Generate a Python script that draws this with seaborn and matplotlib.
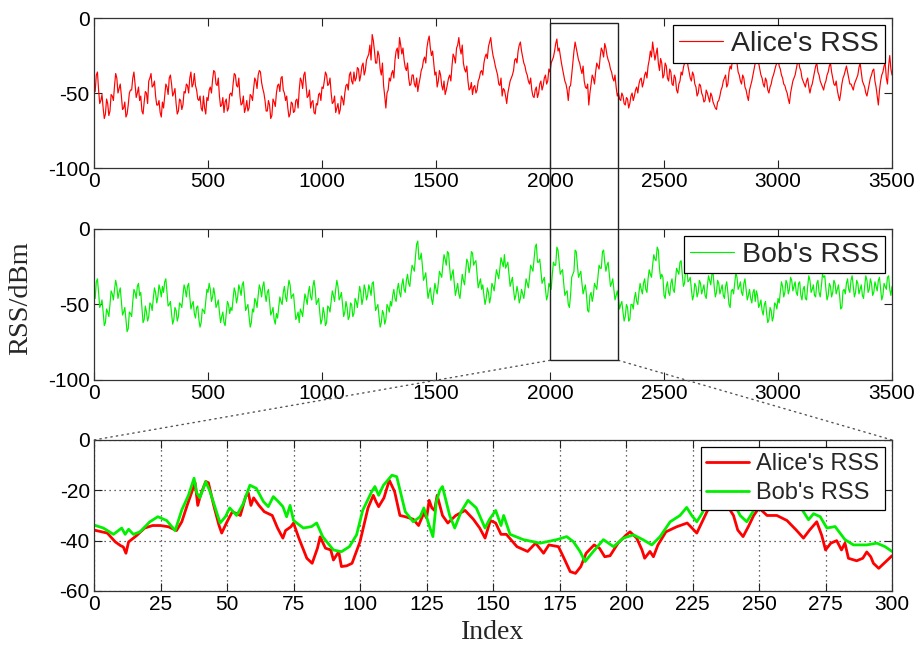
import numpy as np
import matplotlib
matplotlib.use("Agg")
import matplotlib.pyplot as plt
import seaborn as sns
from matplotlib.patches import Rectangle, ConnectionPatch

# full traces: samples at index 0, 10, ..., 3500
alice_rss = [
    -46, -38, -48, -55, -60, -64, -57, -62, -52, -45,
    -40, -47, -52, -60, -66, -58, -48, -40, -44, -50,
    -55, -62, -56, -50, -42, -37, -45, -52, -58, -63,
    -56, -52, -46, -40, -44, -50, -57, -62, -55, -58,
    -50, -45, -40, -46, -37, -48, -55, -60, -52, -64,
    -55, -46, -41, -36, -45, -52, -58, -63, -54, -60,
    -50, -44, -38, -46, -52, -57, -63, -55, -60, -52,
    -47, -42, -38, -36, -47, -55, -62, -58, -65, -56,
    -50, -44, -40, -48, -55, -60, -64, -57, -62, -54,
    -48, -42, -38, -45, -52, -60, -55, -64, -58, -50,
    -46, -42, -38, -44, -50, -56, -63, -57, -61, -54,
    -50, -44, -38, -42, -36, -40, -34, -38, -30, -35,
    -26, -18, -11, -22, -30, -25, -38, -45, -60, -48,
    -42, -35, -28, -20, -13, -24, -28, -35, -40, -44,
    -38, -46, -49, -40, -33, -26, -20, -12, -25, -30,
    -36, -42, -38, -48, -51, -44, -38, -32, -26, -20,
    -13, -24, -30, -36, -42, -47, -51, -45, -48, -40,
    -35, -30, -24, -19, -13, -25, -32, -38, -45, -52,
    -48, -57, -46, -40, -35, -27, -22, -16, -26, -32,
    -38, -44, -48, -53, -46, -50, -42, -45, -38, -42,
    -36, -28, -22, -14, -20, -30, -38, -44, -55, -45,
    -30, -16, -24, -30, -37, -42, -47, -58, -44, -40,
    -36, -32, -26, -22, -17, -25, -30, -36, -42, -46,
    -50, -55, -52, -58, -54, -57, -50, -52, -46, -44,
    -40, -43, -36, -32, -22, -16, -28, -20, -35, -30,
    -38, -32, -42, -36, -45, -40, -50, -42, -38, -30,
    -26, -36, -42, -38, -46, -50, -45, -52, -55, -50,
    -56, -52, -58, -61, -55, -48, -42, -38, -44, -32,
    -28, -22, -30, -38, -44, -40, -48, -55, -45, -38,
    -30, -25, -34, -40, -46, -42, -50, -44, -38, -32,
    -26, -34, -40, -45, -50, -57, -46, -40, -34, -28,
    -35, -42, -46, -40, -50, -44, -36, -30, -38, -44,
    -48, -42, -36, -30, -40, -45, -48, -55, -44, -38,
    -32, -40, -44, -48, -42, -38, -30, -42, -46, -52,
    -44, -38, -34, -46, -58, -42, -36, -30, -44, -25,
    -38,
]
# samples in between: index 5, 15, ..., 3495
alice_rss_mid = [
    -49, -36, -57, -51, -67, -54, -65, -51, -55, -37,
    -50, -44, -61, -56, -64, -50, -48, -36, -53, -46,
    -52, -64, -49, -57, -40, -46, -42, -58, -55, -66,
    -60, -44, -51, -38, -52, -47, -64, -54, -61, -49,
    -44, -50, -36, -44, -45, -54, -52, -62, -60, -53,
    -48, -50, -35, -44, -40, -59, -53, -56, -62, -51,
    -52, -37, -45, -40, -58, -52, -60, -62, -51, -55,
    -40, -47, -35, -43, -50, -62, -55, -67, -54, -59,
    -45, -49, -39, -50, -52, -66, -56, -63, -55, -60,
    -40, -47, -36, -53, -48, -56, -63, -57, -51, -55,
    -47, -36, -45, -40, -57, -52, -60, -64, -52, -58,
    -45, -48, -36, -44, -42, -33, -42, -32, -38, -28,
    -24, -28, -15, -30, -22, -34, -30, -52, -50, -40,
    -37, -40, -22, -27, -18, -20, -33, -30, -45, -38,
    -44, -40, -44, -35, -28, -30, -15, -20, -22, -38,
    -46, -35, -45, -42, -48, -40, -42, -24, -30, -18,
    -20, -18, -34, -32, -48, -43, -46, -50, -42, -36,
    -38, -26, -27, -16, -20, -28, -35, -44, -40, -47,
    -52, -50, -42, -38, -28, -30, -18, -22, -30, -36,
    -42, -40, -52, -48, -53, -44, -48, -40, -44, -34,
    -30, -26, -17, -22, -25, -34, -42, -48, -46, -38,
    -22, -20, -28, -34, -32, -46, -44, -50, -38, -44,
    -30, -34, -20, -26, -20, -28, -34, -40, -38, -52,
    -54, -50, -57, -53, -60, -52, -55, -48, -50, -41,
    -46, -38, -40, -28, -26, -22, -24, -30, -27, -40,
    -30, -40, -34, -44, -38, -48, -44, -36, -33, -29,
    -32, -40, -36, -44, -52, -44, -50, -56, -48, -53,
    -50, -56, -60, -56, -52, -46, -40, -46, -36, -34,
    -24, -28, -36, -42, -38, -46, -52, -48, -42, -34,
    -28, -30, -38, -44, -40, -48, -46, -40, -35, -30,
    -32, -38, -44, -48, -54, -50, -42, -38, -30, -33,
    -40, -44, -42, -46, -46, -40, -32, -36, -42, -46,
    -44, -38, -32, -36, -44, -42, -52, -50, -40, -35,
    -36, -44, -46, -44, -40, -33, -36, -44, -50, -48,
    -40, -35, -42, -52, -48, -38, -32, -40, -32, -34,
]

bob_rss = [
    -44, -35, -42, -50, -55, -62, -55, -50, -43, -40,
    -38, -42, -48, -55, -60, -66, -56, -48, -42, -38,
    -44, -52, -60, -55, -58, -50, -46, -42, -45, -40,
    -38, -35, -42, -50, -56, -60, -54, -58, -50, -44,
    -40, -38, -45, -50, -56, -52, -60, -62, -54, -48,
    -42, -40, -45, -44, -50, -55, -58, -62, -56, -50,
    -52, -46, -42, -45, -40, -37, -44, -52, -58, -62,
    -55, -48, -44, -40, -38, -43, -42, -48, -55, -60,
    -56, -52, -48, -42, -45, -40, -37, -44, -52, -58,
    -62, -55, -50, -46, -42, -45, -38, -40, -48, -55,
    -60, -56, -62, -52, -48, -44, -40, -38, -45, -50,
    -55, -52, -58, -50, -56, -48, -45, -42, -46, -40,
    -44, -40, -36, -45, -52, -58, -62, -56, -60, -52,
    -48, -44, -46, -40, -42, -37, -40, -34, -36, -30,
    -26, -18, -8, -20, -24, -32, -38, -42, -46, -43,
    -40, -36, -30, -24, -20, -15, -26, -30, -36, -40,
    -43, -38, -34, -28, -22, -25, -16, -22, -30, -36,
    -40, -44, -46, -42, -45, -38, -34, -30, -26, -22,
    -17, -24, -30, -35, -40, -44, -42, -46, -43, -40,
    -36, -32, -26, -20, -10, -22, -28, -34, -40, -44,
    -38, -30, -24, -12, -22, -28, -36, -42, -50, -44,
    -30, -14, -24, -30, -36, -40, -44, -55, -42, -44,
    -38, -32, -26, -15, -22, -24, -30, -36, -40, -44,
    -46, -50, -55, -58, -52, -60, -50, -46, -48, -42,
    -40, -36, -40, -33, -30, -24, -20, -12, -26, -30,
    -44, -38, -42, -36, -40, -34, -28, -22, -30, -36,
    -26, -34, -40, -44, -38, -42, -36, -40, -44, -38,
    -34, -30, -38, -42, -36, -40, -44, -38, -42, -52,
    -40, -36, -32, -38, -42, -36, -40, -44, -46, -42,
    -48, -44, -50, -54, -50, -56, -60, -54, -58, -50,
    -46, -42, -38, -42, -36, -40, -34, -38, -42, -36,
    -44, -40, -46, -38, -34, -40, -44, -36, -42, -38,
    -32, -40, -44, -38, -42, -36, -40, -44, -52, -40,
    -36, -40, -34, -38, -42, -36, -40, -44, -38, -34,
    -40, -36, -42, -38, -34, -40, -44, -38, -32, -40,
    -38,
]
bob_rss_mid = [
    -46, -33, -52, -47, -64, -53, -58, -41, -47, -34,
    -46, -39, -57, -52, -68, -55, -58, -40, -46, -36,
    -42, -62, -51, -61, -49, -54, -39, -49, -37, -45,
    -42, -33, -51, -48, -63, -52, -61, -49, -52, -37,
    -45, -36, -53, -48, -59, -51, -65, -53, -56, -40,
    -36, -48, -39, -52, -47, -62, -55, -64, -48, -56,
    -54, -39, -49, -37, -44, -35, -54, -50, -65, -53,
    -46, -52, -37, -45, -35, -48, -40, -57, -52, -63,
    -59, -45, -50, -38, -48, -34, -46, -43, -60, -55,
    -53, -58, -43, -50, -38, -47, -34, -50, -46, -63,
    -52, -64, -51, -55, -41, -48, -34, -47, -42, -58,
    -48, -60, -49, -58, -46, -52, -38, -50, -37, -47,
    -37, -44, -35, -54, -50, -65, -54, -63, -50, -55,
    -51, -40, -48, -36, -45, -33, -42, -30, -38, -24,
    -28, -10, -20, -16, -34, -29, -46, -39, -50, -36,
    -43, -28, -32, -17, -24, -16, -34, -27, -44, -36,
    -46, -30, -37, -20, -29, -15, -24, -21, -39, -33,
    -37, -50, -39, -49, -36, -41, -27, -33, -19, -25,
    -26, -22, -38, -32, -47, -38, -49, -40, -46, -33,
    -39, -24, -28, -12, -22, -20, -36, -32, -47, -36,
    -40, -22, -24, -14, -30, -27, -44, -41, -52, -32,
    -28, -15, -32, -28, -43, -37, -54, -44, -48, -36,
    -40, -24, -26, -14, -28, -22, -38, -33, -47, -41,
    -53, -48, -61, -50, -61, -50, -53, -42, -50, -36,
    -43, -33, -42, -27, -32, -17, -21, -14, -33, -32,
    -46, -35, -44, -33, -42, -26, -30, -21, -38, -26,
    -35, -32, -47, -36, -45, -34, -43, -37, -46, -31,
    -37, -29, -45, -34, -43, -37, -46, -35, -50, -41,
    -43, -29, -40, -35, -44, -33, -47, -40, -49, -40,
    -41, -52, -47, -57, -48, -62, -52, -61, -49, -53,
    -49, -35, -45, -34, -43, -32, -41, -35, -44, -35,
    -47, -38, -47, -31, -42, -37, -45, -34, -45, -30,
    -31, -47, -36, -45, -34, -43, -37, -53, -41, -43,
    -33, -42, -31, -45, -34, -43, -37, -46, -31, -42,
    -33, -44, -35, -41, -32, -47, -36, -40, -31, -44,
]

# zoomed window (indices 2000-2300 re-numbered 0-300)
zoom_alice_idx = [
    0, 3, 5, 8, 10, 11, 12, 13, 16, 19, 22, 25, 28, 31, 33, 35, 36, 38, 39, 40,
    42, 43, 45, 47, 48, 50, 52, 55, 57, 58, 59, 60, 62, 64, 67, 69, 71, 72, 74, 75,
    77, 80, 82, 84, 85, 87, 89, 90, 92, 93, 95, 97, 100, 103, 105, 106, 107, 109, 111, 113,
    115, 117, 120, 122, 124, 125, 126, 127, 128, 129, 131, 133, 136, 139.5, 142.6, 145, 147, 149, 151, 153,
    155, 159, 163, 166, 169, 171, 174.6, 177, 179, 181, 183, 185, 188, 190, 192, 194, 197, 200, 201.5, 204,
    206, 207, 209, 210.3, 212, 215, 219, 223, 226.6, 229, 232, 235, 238, 240.4, 242, 244, 246, 248, 250, 253,
    256.7, 260.5, 264, 266.7, 269, 271.7, 273.6, 275, 277, 279.2, 281, 282.3, 283.6, 286.7, 289, 290.5, 292, 293, 295, 297,
    300,
]
zoom_alice = [
    -35.8, -36.5, -37, -40.5, -42, -42.5, -45, -40.5, -38, -35, -34, -34, -34.5, -36, -32.5, -26, -23, -17, -26, -22,
    -16.5, -17, -26, -34, -37, -32.5, -28.5, -30, -22.5, -21, -26, -23, -26, -28.5, -30, -35, -39, -36, -34.5, -33,
    -39, -47, -49, -43, -38.5, -43, -43.7, -47.7, -44.4, -50.3, -50, -49, -40.4, -27, -22, -24.5, -26.5, -23, -16, -20.5,
    -30, -30.5, -31.5, -34, -29, -31, -24, -27, -28, -22, -30, -33, -30, -28, -31.5, -35, -39, -32, -33, -37.5,
    -37.5, -42.4, -44.3, -41, -45, -41.7, -42.4, -47.7, -52.3, -53, -50.3, -45, -41.7, -43, -46.4, -46, -41, -37.8, -36.5, -39,
    -43.7, -47, -44.3, -46.4, -41.7, -36.5, -34.5, -33, -37, -31.7, -25, -22, -26, -30, -35.8, -38.4, -34.4, -30, -27, -30,
    -30, -32, -35.8, -39, -35.8, -32.5, -38, -43.7, -41, -40, -43.7, -41, -47, -48, -47, -44.5, -46.4, -49, -51, -49,
    -46,
]

zoom_bob_idx = [
    0, 3.5, 7.3, 10.4, 11.7, 13, 14.8, 17.3, 21, 24, 27.3, 30.5, 33, 35.5, 37.6, 38.6, 39.8, 42, 43.6, 47.4,
    49.4, 51, 53.6, 56, 58.6, 61, 63.7, 65.5, 67.4, 69.3, 71, 72.4, 73.7, 75, 78.7, 81.8, 83.7, 86, 90, 93,
    96, 98.7, 101, 104.4, 105.6, 107, 108.8, 112, 113.8, 117, 120, 122.6, 124, 126, 127.4, 128.7, 130, 131, 133.7, 135.6,
    138, 140.6, 143.7, 147, 148.7, 151, 153, 154, 156.4, 161.4, 167.7, 174, 177.7, 180.2, 182.7, 184.6, 187.7, 191.5, 195.3, 199,
    202.8, 206.5, 209.7, 212.8, 216.6, 220.3, 222.8, 224.7, 226.6, 228.5, 232, 236, 240, 242.9, 245.4, 248, 252, 258, 264, 268.6,
    270.5, 273, 275.5, 278.6, 282.3, 285.5, 290.5, 294.3, 297.4, 300,
]
zoom_bob = [
    -33.8, -35, -37.5, -35, -37.5, -35.5, -37.5, -36.5, -32.5, -30.5, -32, -36, -27.8, -22, -15.2, -21, -23, -16.5, -20.5, -33,
    -30.5, -27, -30, -25.5, -18, -19.2, -24.5, -26.5, -22.5, -24.5, -26.5, -30.5, -26, -32, -35, -34.4, -33, -38.5, -43.7, -44.4,
    -42.4, -37.7, -28, -20.5, -18.5, -22, -18, -14, -14.6, -28.5, -32.5, -30.5, -27, -34, -38.4, -24.5, -20, -18.5, -30, -35,
    -28.5, -24, -27, -35, -31.5, -28, -34, -30, -37.5, -39.6, -41, -39.6, -38.4, -40.4, -44.3, -48.3, -44.3, -39.6, -42.4, -39,
    -37.7, -39.7, -41.7, -38.4, -32.5, -30, -26.8, -30, -32.5, -29.3, -22, -18, -24, -30, -32.5, -28, -24, -22, -24, -31.7,
    -29.3, -30.5, -35, -34.4, -39.6, -41.7, -41.7, -41, -42.4, -44.3,
]

zoom_start, zoom_end = 2000, 2300

# merge the two sample grids of each full trace
full_index = np.concatenate([np.arange(0, 3501, 10), np.arange(5, 3500, 10)])
order = np.argsort(full_index)
full_index = full_index[order]
alice_full = np.array(alice_rss + alice_rss_mid)[order]
bob_full = np.array(bob_rss + bob_rss_mid)[order]

sns.set_style("ticks")
plt.rcParams['font.family'] = ['Liberation Sans', 'DejaVu Sans']
plt.rcParams['axes.unicode_minus'] = False

fig = plt.figure(figsize=(9.2, 6.49), dpi=100)
ax1 = fig.add_axes([0.1022, 0.7411, 0.8674, 0.2311])
ax2 = fig.add_axes([0.1022, 0.4145, 0.8674, 0.2327])
ax3 = fig.add_axes([0.1022, 0.0894, 0.8674, 0.2327])

RED = '#ff0000'
GREEN = '#00f000'

sns.lineplot(x=full_index, y=alice_full, ax=ax1, color=RED, lw=0.85, label="Alice's RSS", estimator=None)
sns.lineplot(x=full_index, y=bob_full, ax=ax2, color=GREEN, lw=0.85, label="Bob's RSS", estimator=None)
sns.lineplot(x=zoom_alice_idx, y=zoom_alice, ax=ax3, color=RED, lw=2, label="Alice's RSS", estimator=None)
sns.lineplot(x=zoom_bob_idx, y=zoom_bob, ax=ax3, color=GREEN, lw=2, label="Bob's RSS", estimator=None)

for ax in (ax1, ax2):
    ax.set_xlim(0, 3500)
    ax.set_ylim(-100, 0)
    ax.set_xticks(range(0, 3501, 500))
    ax.set_yticks([-100, -50, 0])
ax3.set_xlim(0, 300)
ax3.set_ylim(-60, 0)
ax3.set_xticks(range(0, 301, 25))
ax3.set_yticks([-60, -40, -20, 0])
ax3.grid(True, linestyle=(0, (1, 3)), color='#333333', linewidth=0.9)

for ax in (ax1, ax2, ax3):
    ax.tick_params(direction='in', top=True, right=True, length=6, width=0.8,
                   labelsize=15, colors='#222222', labelcolor='black', pad=3)
    for sp in ax.spines.values():
        sp.set_linewidth(0.9)
        sp.set_color('#333333')
    ax.set_xlabel('')
    ax.set_ylabel('')

leg_kw = dict(loc='upper right', frameon=True, fancybox=False, framealpha=1,
              edgecolor='black', handletextpad=0.3)
lg = ax1.legend(fontsize=20.5, handlelength=1.55, borderpad=0.2, borderaxespad=0.25, **leg_kw)
lg.get_frame().set_linewidth(0.9)
lg = ax2.legend(fontsize=20.5, handlelength=1.55, borderpad=0.2, borderaxespad=0.25, **leg_kw)
lg.get_frame().set_linewidth(0.9)
lg = ax3.legend(fontsize=17, handlelength=1.8, borderpad=0.25, borderaxespad=0.3,
                labelspacing=0.3, **leg_kw)
lg.get_frame().set_linewidth(0.9)

ax3.set_xlabel('Index', family=['Liberation Serif', 'DejaVu Serif'], fontsize=20, labelpad=4)
fig.text(0.022, 0.54, 'RSS/dBm', rotation=90, ha='center', va='center',
         family=['Liberation Serif', 'DejaVu Serif'], fontsize=20.5)

# zoom box spanning the two upper panels
to_fig = fig.transFigure.inverted()
x0, y_top = to_fig.transform(ax1.transData.transform((zoom_start, -3)))
x1, y_bot = to_fig.transform(ax2.transData.transform((zoom_end, -87)))
fig.add_artist(Rectangle((x0, y_bot), x1 - x0, y_top - y_bot, transform=fig.transFigure,
                         fill=False, edgecolor='#222222', lw=1.0, zorder=5))
for xa, xb in ((zoom_start, 0), (zoom_end, 300)):
    con = ConnectionPatch(xyA=(xa, -87), coordsA=ax2.transData, xyB=(xb, 0), coordsB=ax3.transData,
                          linestyle=(0, (1, 3)), color='#555555', lw=1.0)
    fig.add_artist(con)

fig.savefig('out.png', dpi=100)
